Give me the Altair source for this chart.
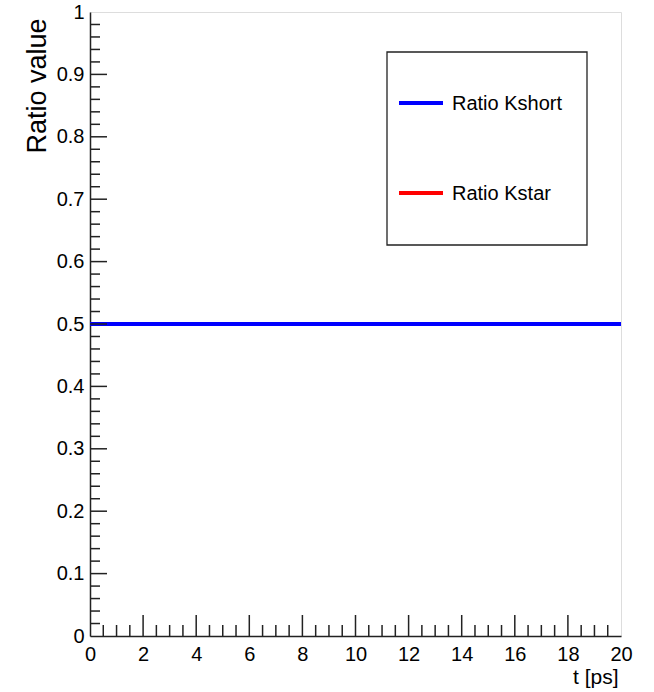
import altair as alt
import numpy as np
import pandas as pd

# Ratio curves versus decay time
t_ps = [0, 2, 4, 6, 8, 10, 12, 14, 16, 18, 20]
ratio_kshort = [0.5, 0.5, 0.5, 0.5, 0.5, 0.5, 0.5, 0.5, 0.5, 0.5, 0.5]
ratio_kstar = [0.5, 0.5, 0.5, 0.5, 0.5, 0.5, 0.5, 0.5, 0.5, 0.5, 0.5]

series_names = ["Ratio Kshort", "Ratio Kstar"]
series_colors = ["#0000ff", "#ff0000"]

# Axis tick positions
x_major = [0, 2, 4, 6, 8, 10, 12, 14, 16, 18, 20]
y_major = [0, 0.1, 0.2, 0.3, 0.4, 0.5, 0.6, 0.7, 0.8, 0.9, 1]
x_minor = [v for v in np.round(np.arange(0, 20.01, 0.5), 2) if v % 2 != 0]
y_minor = [v for v in np.round(np.arange(0, 1.001, 0.02), 2)
           if abs(v * 10 - round(v * 10)) > 1e-6]

W, H = 531, 624
FONT = "Liberation Sans"

x_scale = alt.Scale(domain=[0, 20], nice=False, zero=False)
y_scale = alt.Scale(domain=[0, 1], nice=False, zero=False)

df = pd.concat([
    pd.DataFrame({"t": t_ps, "ratio": ratio_kstar, "series": "Ratio Kstar"}),
    pd.DataFrame({"t": t_ps, "ratio": ratio_kshort, "series": "Ratio Kshort"}),
])

x_axis = alt.Axis(
    values=x_major, format="~g", ticks=False, tickSize=0, grid=False,
    domainColor="#222", domainWidth=1.5,
    labelFont=FONT, labelFontSize=20, labelColor="black", labelPadding=8,
    labelFlush=False, labelOverlap=False,
    title="t [ps]", titleFont=FONT, titleFontSize=21, titleFontWeight="normal",
    titleColor="black", titleAlign="right", titleAnchor="end",
    titleX=528, titleY=47, titleBaseline="alphabetic",
)
y_axis = alt.Axis(
    values=y_major, format="~g", ticks=False, tickSize=0, grid=False,
    domainColor="#222", domainWidth=1.5,
    labelFont=FONT, labelFontSize=20, labelColor="black", labelPadding=6,
    labelFlush=False, labelOverlap=False,
    title="Ratio value", titleFont=FONT, titleFontSize=27, titleFontWeight="normal",
    titleColor="black", titleAngle=270, titleAlign="right", titleAnchor="end",
    titleX=-45, titleY=6, titleBaseline="alphabetic",
)

lines = alt.Chart(df).mark_line(strokeWidth=4).encode(
    x=alt.X("t:Q", scale=x_scale, axis=x_axis),
    y=alt.Y("ratio:Q", scale=y_scale, axis=y_axis),
    color=alt.Color("series:N", scale=alt.Scale(domain=series_names, range=series_colors),
                    legend=None),
    order=alt.Order("series:N", sort="descending"),
)

# Inward-pointing ticks on the bottom and left axes
tick_color = "#222"
xmaj = alt.Chart(pd.DataFrame({"t": x_major[1:-1]})).mark_rule(color=tick_color, strokeWidth=1.5).encode(
    x=alt.X("t:Q", scale=x_scale), y=alt.value(H), y2=alt.value(H - 21))
xmin = alt.Chart(pd.DataFrame({"t": x_minor})).mark_rule(color=tick_color, strokeWidth=1.5).encode(
    x=alt.X("t:Q", scale=x_scale), y=alt.value(H), y2=alt.value(H - 11))
ymaj = alt.Chart(pd.DataFrame({"r": y_major[1:-1]})).mark_rule(color=tick_color, strokeWidth=1.5).encode(
    y=alt.Y("r:Q", scale=y_scale), x=alt.value(0), x2=alt.value(17))
ymin = alt.Chart(pd.DataFrame({"r": y_minor})).mark_rule(color=tick_color, strokeWidth=1.5).encode(
    y=alt.Y("r:Q", scale=y_scale), x=alt.value(0), x2=alt.value(10))

# Legend box with one entry per series
legend_box = alt.Chart(pd.DataFrame({"a": [0]})).mark_rect(
    fill="white", stroke="#222", strokeWidth=1.3
).encode(x=alt.value(297), x2=alt.value(497), y=alt.value(40), y2=alt.value(233))

legend_layers = [legend_box]
for i, (name, color) in enumerate(zip(series_names, series_colors)):
    row_y = 91 + 90 * i
    entry = pd.DataFrame({"label": [name]})
    legend_layers.append(
        alt.Chart(entry).mark_rule(color=color, strokeWidth=4).encode(
            x=alt.value(309), x2=alt.value(353), y=alt.value(row_y))
    )
    legend_layers.append(
        alt.Chart(entry).mark_text(
            font=FONT, fontSize=20, color="black", align="left", baseline="middle"
        ).encode(x=alt.value(362), y=alt.value(row_y + 1), text="label:N")
    )

chart = alt.layer(
    lines, xmaj, xmin, ymaj, ymin, *legend_layers
).properties(
    width=W, height=H,
    autosize=alt.AutoSizeParams(type="none"),
    padding={"left": 90, "top": 12, "right": 33, "bottom": 56},
).configure_view(
    stroke="#222", strokeWidth=1.5
).configure(background="white")

chart.save("out.html", embed_options={"renderer": "svg", "actions": False})
